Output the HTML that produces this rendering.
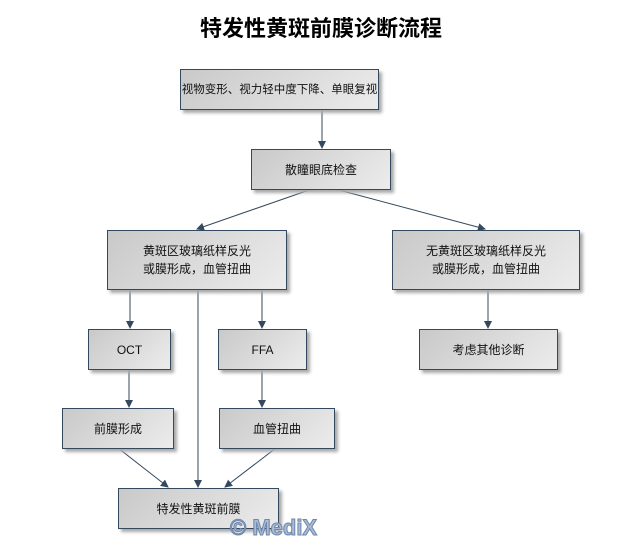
<!DOCTYPE html>
<html><head><meta charset="utf-8"><style>
body{margin:0;width:642px;height:538px;background:#fff;overflow:hidden;position:relative;font-family:"Liberation Sans","Noto Sans CJK SC",sans-serif}
.t{position:absolute;top:11px;left:0;width:642px;text-align:center;font-size:22px;font-weight:bold;color:#000;font-family:"Noto Sans CJK SC","WenQuanYi Zen Hei",sans-serif}
.b{position:absolute;box-sizing:border-box;border:1px solid #34495e;background:linear-gradient(135deg,#c9c9c9,#ececec);box-shadow:3px 3px 3px #aaa;display:flex;align-items:center;justify-content:center;text-align:center;font-size:12px;line-height:18px;color:#111;white-space:nowrap}
svg{position:absolute;left:0;top:0}
.w{position:absolute;left:230px;top:515px;font-size:22px;font-weight:bold;color:#a9bcd6;-webkit-text-stroke:1px #6d86aa;font-family:"Liberation Sans",sans-serif}
</style></head><body>
<div class="t">特发性黄斑前膜诊断流程</div>
<svg width="642" height="538"><defs><marker id="a" markerWidth="8" markerHeight="10" refX="7" refY="4" orient="auto" markerUnits="userSpaceOnUse"><path d="M0,0 L8,4 L0,8 z" fill="#34495e"/></marker></defs>
<g stroke="#34495e" stroke-width="1" fill="none" marker-end="url(#a)">
<line x1="322" y1="109" x2="322" y2="148"/>
<line x1="312" y1="189" x2="197" y2="229"/>
<line x1="335" y1="189" x2="485" y2="229"/>
<line x1="130" y1="290" x2="130" y2="328"/>
<line x1="262" y1="290" x2="262" y2="328"/>
<line x1="198" y1="290" x2="198" y2="487"/>
<line x1="488" y1="290" x2="488" y2="328"/>
<line x1="129" y1="369" x2="129" y2="407"/>
<line x1="262" y1="369" x2="262" y2="407"/>
<line x1="118" y1="448" x2="168" y2="487"/>
<line x1="276" y1="448" x2="225" y2="487"/>
</g></svg>
<div class="b" style="left:180px;top:69px;width:199px;height:41px;font-size:11.5px">视物变形、视力轻中度下降、单眼复视</div>
<div class="b" style="left:251px;top:149px;width:140px;height:41px">散瞳眼底检查</div>
<div class="b" style="left:107px;top:230px;width:180px;height:60px">黄斑区玻璃纸样反光<br>或膜形成，血管扭曲</div>
<div class="b" style="left:392px;top:230px;width:188px;height:60px">无黄斑区玻璃纸样反光<br>或膜形成，血管扭曲</div>
<div class="b" style="left:88px;top:329px;width:83px;height:41px">OCT</div>
<div class="b" style="left:218px;top:329px;width:89px;height:41px">FFA</div>
<div class="b" style="left:419px;top:329px;width:139px;height:41px">考虑其他诊断</div>
<div class="b" style="left:62px;top:408px;width:112px;height:41px">前膜形成</div>
<div class="b" style="left:219px;top:408px;width:116px;height:41px">血管扭曲</div>
<div class="b" style="left:118px;top:488px;width:161px;height:41px">特发性黄斑前膜</div>
<div class="w">© MediX</div>
</body></html>
